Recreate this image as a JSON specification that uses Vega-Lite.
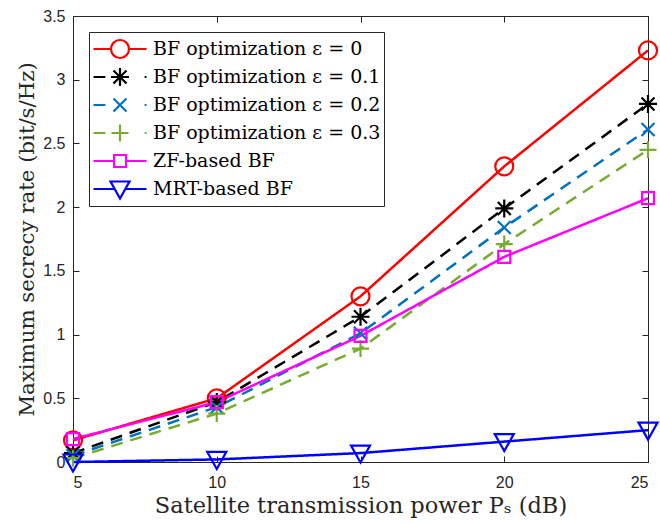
{
  "$schema": "https://vega.github.io/schema/vega-lite/v6.json",
  "width": 575,
  "height": 446,
  "autosize": {"type": "none"},
  "padding": {"left": 73, "top": 16, "right": 12, "bottom": 62},
  "background": "white",
  "config": {
    "view": {"stroke": "#262626", "strokeWidth": 1},
    "axis": {
      "grid": false,
      "domainColor": "#262626",
      "tickColor": "#262626",
      "labelFont": "Liberation Sans",
      "labelFontSize": 16,
      "labelColor": "#262626",
      "titleFont": "DejaVu Serif",
      "titleFontSize": 21,
      "titleFontWeight": "normal",
      "titleColor": "#262626",
      "tickSize": -6
    }
  },
  "data": {
    "values": [
      {"P": 5, "rate": 0.17, "series": "BF optimization ε = 0"},
      {"P": 10, "rate": 0.50, "series": "BF optimization ε = 0"},
      {"P": 15, "rate": 1.30, "series": "BF optimization ε = 0"},
      {"P": 20, "rate": 2.32, "series": "BF optimization ε = 0"},
      {"P": 25, "rate": 3.23, "series": "BF optimization ε = 0"},
      {"P": 5, "rate": 0.07, "series": "BF optimization ε = 0.1"},
      {"P": 10, "rate": 0.47, "series": "BF optimization ε = 0.1"},
      {"P": 15, "rate": 1.14, "series": "BF optimization ε = 0.1"},
      {"P": 20, "rate": 1.99, "series": "BF optimization ε = 0.1"},
      {"P": 25, "rate": 2.81, "series": "BF optimization ε = 0.1"},
      {"P": 5, "rate": 0.05, "series": "BF optimization ε = 0.2"},
      {"P": 10, "rate": 0.43, "series": "BF optimization ε = 0.2"},
      {"P": 15, "rate": 1.01, "series": "BF optimization ε = 0.2"},
      {"P": 20, "rate": 1.84, "series": "BF optimization ε = 0.2"},
      {"P": 25, "rate": 2.61, "series": "BF optimization ε = 0.2"},
      {"P": 5, "rate": 0.03, "series": "BF optimization ε = 0.3"},
      {"P": 10, "rate": 0.38, "series": "BF optimization ε = 0.3"},
      {"P": 15, "rate": 0.89, "series": "BF optimization ε = 0.3"},
      {"P": 20, "rate": 1.71, "series": "BF optimization ε = 0.3"},
      {"P": 25, "rate": 2.45, "series": "BF optimization ε = 0.3"},
      {"P": 5, "rate": 0.18, "series": "ZF-based BF"},
      {"P": 10, "rate": 0.47, "series": "ZF-based BF"},
      {"P": 15, "rate": 0.99, "series": "ZF-based BF"},
      {"P": 20, "rate": 1.61, "series": "ZF-based BF"},
      {"P": 25, "rate": 2.07, "series": "ZF-based BF"},
      {"P": 5, "rate": 0.0, "series": "MRT-based BF"},
      {"P": 10, "rate": 0.02, "series": "MRT-based BF"},
      {"P": 15, "rate": 0.07, "series": "MRT-based BF"},
      {"P": 20, "rate": 0.16, "series": "MRT-based BF"},
      {"P": 25, "rate": 0.25, "series": "MRT-based BF"}
    ]
  },
  "layer": [
    {
      "mark": {"type": "line", "strokeWidth": 2.5},
      "encoding": {
        "x": {"field": "P", "type": "quantitative", "scale": {"domain": [5, 25], "nice": false, "zero": false},
          "axis": {"values": [5, 10, 15, 20, 25], "title": "Satellite transmission power Pₛ (dB)", "titleFontSize": 22.5, "labelPadding": 18, "titlePadding": 4}},
        "y": {"field": "rate", "type": "quantitative", "scale": {"domain": [0, 3.5], "nice": false},
          "axis": {"values": [0, 0.5, 1, 1.5, 2, 2.5, 3, 3.5], "format": "~g", "title": "Maximum secrecy rate (bit/s/Hz)", "titleFontSize": 21.3, "labelPadding": 14, "titlePadding": 5}},
        "color": {"field": "series", "type": "nominal",
          "scale": {"domain": ["BF optimization ε = 0", "BF optimization ε = 0.1", "BF optimization ε = 0.2", "BF optimization ε = 0.3", "ZF-based BF", "MRT-based BF"],
            "range": ["#FF0000", "#000000", "#0072BD", "#77AC30", "#FF00FF", "#0000FF"]}, "legend": null},
        "strokeDash": {"field": "series", "type": "nominal",
          "scale": {"domain": ["BF optimization ε = 0", "BF optimization ε = 0.1", "BF optimization ε = 0.2", "BF optimization ε = 0.3", "ZF-based BF", "MRT-based BF"],
            "range": [[1, 0], [12, 8], [12, 8], [12, 8], [1, 0], [1, 0]]}, "legend": null}
      }
    },
    {
      "mark": {"type": "point", "filled": false, "strokeWidth": 2.2, "size": 400, "opacity": 1},
      "encoding": {
        "x": {"field": "P", "type": "quantitative", "axis": {"orient": "top", "values": [5, 10, 15, 20, 25], "labels": false, "title": null}},
        "y": {"field": "rate", "type": "quantitative", "axis": {"orient": "right", "values": [0, 0.5, 1, 1.5, 2, 2.5, 3, 3.5], "labels": false, "title": null}},
        "color": {"field": "series", "type": "nominal",
          "scale": {"domain": ["BF optimization ε = 0", "BF optimization ε = 0.1", "BF optimization ε = 0.2", "BF optimization ε = 0.3", "ZF-based BF", "MRT-based BF"],
            "range": ["#FF0000", "#000000", "#0072BD", "#77AC30", "#FF00FF", "#0000FF"]}, "legend": null},
        "shape": {"field": "series", "type": "nominal",
          "scale": {"domain": ["BF optimization ε = 0", "BF optimization ε = 0.1", "BF optimization ε = 0.2", "BF optimization ε = 0.3", "ZF-based BF", "MRT-based BF"],
            "range": [
              "M0.9,0A0.9,0.9 0 1,1 -0.9,0A0.9,0.9 0 1,1 0.9,0Z",
              "M-0.9,0L0.9,0M0,-0.9L0,0.9M-0.65,-0.65L0.65,0.65M-0.65,0.65L0.65,-0.65",
              "M-0.65,-0.65L0.65,0.65M-0.65,0.65L0.65,-0.65",
              "M-0.85,0L0.85,0M0,-0.85L0,0.85",
              "M-0.6,-0.6L0.6,-0.6L0.6,0.6L-0.6,0.6Z",
              "M-0.95,-0.75L0.95,-0.75L0,0.95Z"
            ]}, "legend": null}
      }
    },
    {
      "mark": {"type": "point", "filled": false, "strokeWidth": 2.2, "size": 400, "opacity": 0},
      "encoding": {
        "x": {"field": "P", "type": "quantitative", "axis": null},
        "y": {"field": "rate", "type": "quantitative", "axis": null},
        "color": {"field": "series", "type": "nominal",
          "scale": {"domain": ["BF optimization ε = 0", "BF optimization ε = 0.1", "BF optimization ε = 0.2", "BF optimization ε = 0.3", "ZF-based BF", "MRT-based BF"],
            "range": ["#FF0000", "#000000", "#0072BD", "#77AC30", "#FF00FF", "#0000FF"]},
          "legend": {"title": null, "orient": "top-left", "offset": 16, "padding": 3, "clipHeight": 28, "rowPadding": 0,
            "symbolSize": 2809, "symbolStrokeWidth": 2.2, "symbolOpacity": 1, "symbolFillColor": "transparent",
            "labelFont": "DejaVu Serif", "labelFontSize": 19, "labelColor": "#000000", "labelLimit": 400, "labelOffset": 5,
            "strokeColor": "#262626", "fillColor": "white", "cornerRadius": 0}},
        "shape": {"field": "series", "type": "nominal",
          "scale": {"domain": ["BF optimization ε = 0", "BF optimization ε = 0.1", "BF optimization ε = 0.2", "BF optimization ε = 0.3", "ZF-based BF", "MRT-based BF"],
            "range": [
              "M-1,0L-0.34,0M0.34,0L1,0M0.34,0A0.34,0.34 0 1,1 -0.34,0A0.34,0.34 0 1,1 0.34,0Z",
              "M-1,0L-0.55,0M0.93,0L1,0M-0.34,0L0.34,0M0,-0.34L0,0.34M-0.245,-0.245L0.245,0.245M-0.245,0.245L0.245,-0.245",
              "M-1,0L-0.55,0M0.93,0L1,0M-0.245,-0.245L0.245,0.245M-0.245,0.245L0.245,-0.245",
              "M-1,0L-0.55,0M0.93,0L1,0M-0.32,0L0.32,0M0,-0.32L0,0.32",
              "M-1,0L-0.226,0M0.226,0L1,0M-0.226,-0.226L0.226,-0.226L0.226,0.226L-0.226,0.226Z",
              "M-1,0L-0.2,0M0.2,0L1,0M-0.358,-0.283L0.358,-0.283L0,0.358Z"
            ]},
          "legend": {"title": null, "orient": "top-left", "offset": 16, "padding": 3, "clipHeight": 28, "rowPadding": 0,
            "symbolSize": 2809, "symbolStrokeWidth": 2.2, "symbolOpacity": 1, "symbolFillColor": "transparent",
            "labelFont": "DejaVu Serif", "labelFontSize": 19, "labelColor": "#000000", "labelLimit": 400, "labelOffset": 5,
            "strokeColor": "#262626", "fillColor": "white", "cornerRadius": 0}}
      }
    }
  ],
  "resolve": {"scale": {"shape": "independent", "color": "independent"}, "axis": {"x": "independent", "y": "independent"}}
}
